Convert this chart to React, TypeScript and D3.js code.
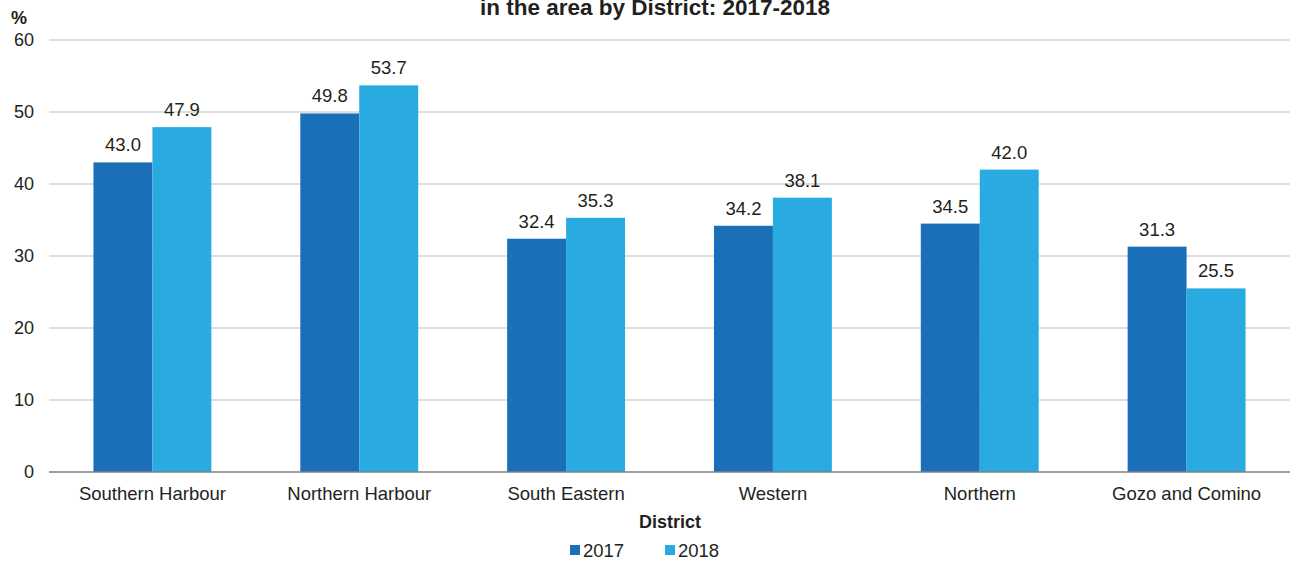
import React, { useEffect } from "react";
import * as d3 from "d3";

const categories = ["Southern Harbour", "Northern Harbour", "South Eastern", "Western", "Northern", "Gozo and Comino"];
const series = ["2017", "2018"];
const values2017 = [43.0, 49.8, 32.4, 34.2, 34.5, 31.3];
const values2018 = [47.9, 53.7, 35.3, 38.1, 42.0, 25.5];
const yTicks = [0, 10, 20, 30, 40, 50, 60];
const colors = ["#1B6FB8", "#29ABE2"];

const W = 1290, H = 565;
const margin = { left: 49, right: 0, top: 40, bottom: 93 };
const FONT = "Liberation Sans, Arial, sans-serif";

export default function App() {
  useEffect(() => {
    document.body.style.margin = "0";
  }, []);
  const x0 = d3.scaleBand().domain(categories).range([margin.left, W - margin.right]).paddingInner(0.43).paddingOuter(0.215);
  const x1 = d3.scaleBand().domain(series).range([0, x0.bandwidth()]);
  const y = d3.scaleLinear().domain([0, 60]).range([H - margin.bottom, margin.top]);
  const data = [values2017, values2018];

  return (
    <svg width={W} height={H} style={{ display: "block", fontFamily: FONT }}>
      <text x={655} y={15} textAnchor="middle" fontWeight="bold" fontSize={22.5} fill="#231F20">in the area by District: 2017-2018</text>
      <text x={11} y={24} fontWeight="bold" fontSize={18} fill="#231F20">%</text>
      {yTicks.map(t => (
        <g key={t}>
          {t !== 0 && <line x1={margin.left} x2={W} y1={y(t)} y2={y(t)} stroke="#BFBFBF" strokeWidth={1} />}
          <text x={34} y={y(t)} dy="0.35em" textAnchor="end" fontSize={18} fill="#231F20">{t}</text>
        </g>
      ))}
      {categories.map((c, i) => (
        <g key={c} transform={`translate(${x0(c)},0)`}>
          {series.map((s, j) => {
            const v = data[j][i];
            return (
              <g key={s}>
                <rect x={x1(s)} y={y(v)} width={x1.bandwidth()} height={y(0) - y(v)} fill={colors[j]} />
                <text x={(x1(s) as number) + x1.bandwidth() / 2} y={y(v) - 11} textAnchor="middle" fontSize={18.5} fill="#231F20">{v.toFixed(1)}</text>
              </g>
            );
          })}
        </g>
      ))}
      <line x1={margin.left} x2={W} y1={y(0)} y2={y(0)} stroke="#808080" strokeWidth={1.5} />
      {categories.map(c => (
        <text key={c} x={(x0(c) as number) + x0.bandwidth() / 2} y={y(0) + 28} textAnchor="middle" fontSize={18.5} fill="#231F20">{c}</text>
      ))}
      <text x={670} y={528} textAnchor="middle" fontWeight="bold" fontSize={18} fill="#231F20">District</text>
      {series.map((s, j) => (
        <g key={s} transform={`translate(${570 + j * 95},0)`}>
          <rect x={0} y={545} width={10} height={10} fill={colors[j]} />
          <text x={13} y={557} fontSize={18.5} fill="#231F20">{s}</text>
        </g>
      ))}
    </svg>
  );
}
